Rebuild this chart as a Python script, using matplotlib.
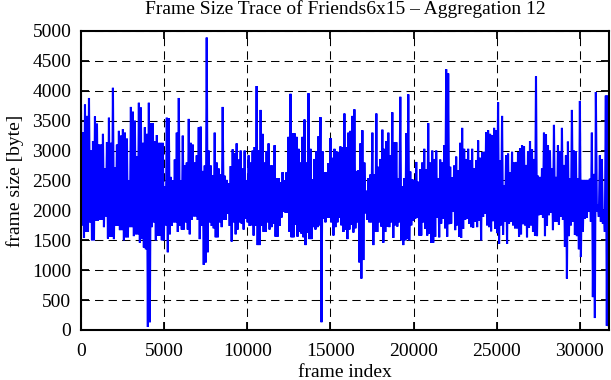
import numpy as np
import matplotlib
matplotlib.use("Agg")
import matplotlib.pyplot as plt

title = "Frame Size Trace of Friends6x15 \u2013 Aggregation 12"
x_label = "frame index"
y_label = "frame size [byte]"
x_ticks = [0, 5000, 10000, 15000, 20000, 25000, 30000]
y_ticks = [0, 500, 1000, 1500, 2000, 2500, 3000, 3500, 4000, 4500, 5000]
x_max = 31750
frames_per_step = 120

# upper swings of the aggregated trace (one per 120 frames)
peak_bytes = [
    3670, 3310, 3770, 3580, 3880, 3000, 3160, 3570, 3450, 3100,
    3100, 3280, 2700, 3140, 3550, 3130, 4050, 2720, 3100, 3330,
    3250, 3360, 3300, 3200, 2500, 3730, 3650, 3500, 2900, 3800,
    3720, 3130, 3390, 3280, 3800, 3460, 3460, 3160, 3260, 3130,
    3130, 3130, 2400, 3550, 3540,
    2560, 2500, 2850, 3300, 3880, 2500, 3250, 2750, 2800, 3530,
    3130, 3100, 2800, 2920, 3390, 3400, 2660, 2750, 4890, 3000,
    2750, 2590, 3300, 2800, 2700, 2600, 3730, 2580, 2510, 2450,
    2740, 3020, 2960, 3120, 2850, 3000, 2700, 3000, 2500, 2920,
    2800, 3000, 3060, 4080,
    3010, 3680, 3280, 2800, 2990, 3120, 2750, 2750, 3090, 2540,
    2540, 2470, 2640, 2500, 2640, 3230, 3950, 3290, 3290, 3230,
    3030, 2800, 3230, 3520, 2800, 3960, 3030, 2520, 2860, 2990,
    3240, 3560, 2990, 2640, 2640, 2790, 3210, 2880, 3030, 2990,
    2970, 3070, 3060, 3620,
    3060, 3300, 3330, 3580, 3690, 2660, 2670, 3120, 3340, 2800,
    2330, 2540, 2600, 3300, 2600, 3620, 2730, 2860, 3350, 3030,
    3160, 3300, 2920, 3640, 3140, 3140, 2540, 3900, 2400, 2540,
    3290, 3940, 2650, 2520, 2510, 2810, 2480, 2690, 2800, 3030,
    2690, 3460, 2800, 3000,
    2860, 3000, 2540, 2850, 2800, 3090, 4360, 4290, 2730, 2550,
    2750, 2900, 2670, 3130, 3380, 3030, 2860, 3030, 2840, 3030,
    2700, 2840, 3170, 2880, 2970, 2980, 3310, 3340, 3280, 3260,
    3380, 3340, 3810, 2840, 3580, 2420, 2920, 2950, 2640, 2980,
    2800, 2810, 2970, 3040,
    3090, 3070, 2760, 2990, 3160, 3020, 2860, 4240, 2580, 2560,
    2700, 3300, 3270, 3090, 3000, 2700, 3430, 2560, 3090, 2990,
    3380, 2760, 2920, 3150, 2540, 3680, 3000, 2990, 2540, 3830,
    2510, 2510, 2510, 2510, 2530, 3300, 2610, 3980, 2100, 2920,
    2860, 2000, 3920, 3920,
]

# lower swings of the aggregated trace (one per 120 frames)
trough_bytes = [
    1750, 1540, 1640, 1640, 1800, 1500, 1500, 1830, 1830, 1840,
    1840, 1720, 1900, 1530, 1560, 1560, 1520, 1740, 1740, 1670,
    1670, 1500, 1550, 1550, 1720, 1720, 1570, 1600, 1600, 1460,
    1520, 1380, 1350, 50, 130, 1720, 1800, 1500, 1580, 1580,
    1500, 1500, 1750, 1300, 1600,
    1740, 1800, 1800, 1640, 1740, 1680, 1680, 1800, 1680, 1600,
    1840, 1900, 1900, 1840, 1520, 1740, 1090, 1130, 1300, 1800,
    1740, 1700, 1550, 1550, 1800, 1720, 1840, 1840, 1940, 1740,
    1480, 1800, 1600, 1680, 1800, 1780, 1680, 1860, 1800, 1740,
    1750, 1580, 1740, 1420,
    1420, 1740, 1640, 1640, 1800, 1680, 1720, 1780, 1560, 1560,
    1740, 1880, 1980, 1960, 1960, 1640, 1550, 1550, 1760, 1560,
    1640, 1610, 1550, 1420, 1630, 1520, 1520, 1720, 1680, 1720,
    1750, 130, 1860, 1800, 1880, 1880, 1800, 1580, 1720, 1800,
    1880, 1750, 1640, 1680,
    1520, 1680, 1760, 1630, 1700, 1800, 1130, 860, 1170, 1950,
    1840, 1800, 1800, 1420, 1640, 1640, 1800, 1730, 1460, 1640,
    1730, 1720, 1800, 1540, 1750, 1730, 1800, 1500, 1420, 1500,
    1520, 1500, 1750, 1830, 1860, 1880, 1580, 1580, 1800, 1690,
    1580, 1610, 1460, 1460,
    1560, 1880, 1550, 1780, 1860, 1700, 1560, 1770, 1780, 1980,
    1670, 1750, 1560, 1540, 1690, 1840, 1860, 1780, 1720, 1710,
    1810, 1720, 1830, 1500, 1890, 1940, 1750, 1720, 1650, 1820,
    1690, 1620, 1440, 1750, 1590, 1810, 1440, 1780, 1810, 1750,
    1700, 1700, 1560, 1600,
    1770, 1750, 1550, 1710, 1750, 1640, 1580, 1570, 1920, 1930,
    1880, 1570, 1740, 1920, 1960, 1670, 1810, 1810, 1760, 1890,
    1840, 1390, 860, 1570, 1750, 1810, 1590, 1570, 1350, 1220,
    1640, 1860, 1880, 1980, 1810, 550, 200, 1980, 1890, 1810,
    1780, 1640, 70, 70,
]

n = len(peak_bytes)
steps = np.arange(n) * frames_per_step
frames = np.empty(2 * n)
sizes = np.empty(2 * n)
frames[0::2] = steps
frames[1::2] = steps + frames_per_step / 2
sizes[0::2] = peak_bytes
sizes[1::2] = trough_bytes

plt.rcParams['font.family'] = ['Liberation Serif', 'DejaVu Serif']
FS = 14

fig = plt.figure(figsize=(6.11, 3.80), dpi=100)
ax = fig.add_axes([81 / 611, 50 / 380, 528 / 611, 299 / 380])

ax.plot(frames, sizes, color='#0000ff', linewidth=1.5, zorder=3,
        solid_joinstyle='miter')

ax.set_xlim(0, x_max)
ax.set_ylim(0, 5000)
ax.set_xticks(x_ticks)
ax.set_yticks(y_ticks)
ax.set_xticklabels([str(t) for t in x_ticks], fontsize=FS)
ax.set_yticklabels([str(t) for t in y_ticks], fontsize=FS)
ax.tick_params(direction='in', length=6, width=1.3, top=True, right=True,
               colors='black')
ax.tick_params(axis='x', pad=9)
ax.tick_params(axis='y', pad=7)
ax.grid(True, color='black', linestyle=(0, (8, 5)), linewidth=0.75)
ax.set_axisbelow(True)
for s in ax.spines.values():
    s.set_linewidth(1.5)
    s.set_zorder(5)

ax.set_title(title, fontsize=FS, pad=12)
ax.set_xlabel(x_label, fontsize=FS, labelpad=3)
ax.set_ylabel(y_label, fontsize=FS, labelpad=6)

fig.savefig("out.png", dpi=100)
